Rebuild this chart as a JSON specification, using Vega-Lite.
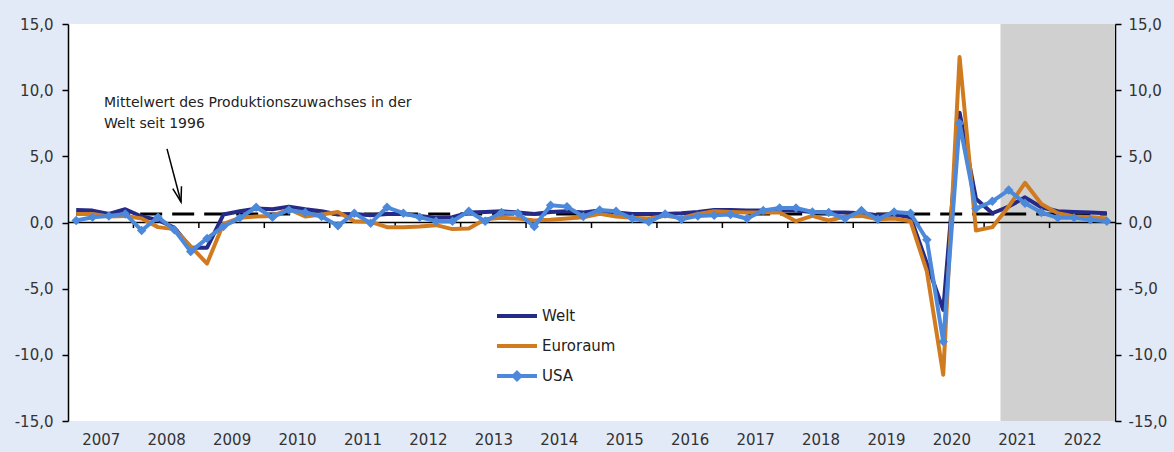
{
  "$schema": "https://vega.github.io/schema/vega-lite/v6.json",
  "width": 1047,
  "height": 397,
  "autosize": "none",
  "padding": {"left": 68, "top": 24, "right": 59, "bottom": 31},
  "background": "#e3eaf7",
  "config": {
    "view": {"stroke": null, "fill": "white"},
    "font": "DejaVu Sans",
    "axis": {"labelFont": "DejaVu Sans", "labelColor": "#333333", "labelFontSize": 15, "grid": false, "title": null}
  },
  "resolve": {"axis": {"y": "independent"}},
  "datasets": {
    "reihen": [
      {"t": 2007.125, "Welt": 0.95, "Euroraum": 0.65, "USA": 0.15},
      {"t": 2007.375, "Welt": 0.9, "Euroraum": 0.65, "USA": 0.4},
      {"t": 2007.625, "Welt": 0.65, "Euroraum": 0.45, "USA": 0.5},
      {"t": 2007.875, "Welt": 1.0, "Euroraum": 0.5, "USA": 0.65},
      {"t": 2008.125, "Welt": 0.45, "Euroraum": 0.3, "USA": -0.6},
      {"t": 2008.375, "Welt": 0.2, "Euroraum": -0.35, "USA": 0.4},
      {"t": 2008.625, "Welt": -0.4, "Euroraum": -0.5, "USA": -0.55},
      {"t": 2008.875, "Welt": -1.9, "Euroraum": -1.8, "USA": -2.2},
      {"t": 2009.125, "Welt": -1.9, "Euroraum": -3.1, "USA": -1.2},
      {"t": 2009.375, "Welt": 0.6, "Euroraum": -0.1, "USA": -0.3},
      {"t": 2009.625, "Welt": 0.85, "Euroraum": 0.35, "USA": 0.35},
      {"t": 2009.875, "Welt": 1.05, "Euroraum": 0.45, "USA": 1.15},
      {"t": 2010.125, "Welt": 1.0, "Euroraum": 0.5, "USA": 0.4},
      {"t": 2010.375, "Welt": 1.2, "Euroraum": 1.0, "USA": 0.95},
      {"t": 2010.625, "Welt": 1.0, "Euroraum": 0.45, "USA": 0.75},
      {"t": 2010.875, "Welt": 0.85, "Euroraum": 0.6, "USA": 0.45},
      {"t": 2011.125, "Welt": 0.6, "Euroraum": 0.8, "USA": -0.25},
      {"t": 2011.375, "Welt": 0.65, "Euroraum": 0.1, "USA": 0.7},
      {"t": 2011.625, "Welt": 0.55, "Euroraum": 0.05, "USA": -0.05},
      {"t": 2011.875, "Welt": 0.65, "Euroraum": -0.35, "USA": 1.15},
      {"t": 2012.125, "Welt": 0.65, "Euroraum": -0.35, "USA": 0.7},
      {"t": 2012.375, "Welt": 0.5, "Euroraum": -0.3, "USA": 0.4},
      {"t": 2012.625, "Welt": 0.35, "Euroraum": -0.2, "USA": 0.1},
      {"t": 2012.875, "Welt": 0.4, "Euroraum": -0.5, "USA": 0.1},
      {"t": 2013.125, "Welt": 0.75, "Euroraum": -0.45, "USA": 0.85},
      {"t": 2013.375, "Welt": 0.8, "Euroraum": 0.25, "USA": 0.1},
      {"t": 2013.625, "Welt": 0.85, "Euroraum": 0.35, "USA": 0.75},
      {"t": 2013.875, "Welt": 0.75, "Euroraum": 0.3, "USA": 0.7},
      {"t": 2014.125, "Welt": 0.65, "Euroraum": 0.15, "USA": -0.3},
      {"t": 2014.375, "Welt": 0.8, "Euroraum": 0.2, "USA": 1.3},
      {"t": 2014.625, "Welt": 0.85, "Euroraum": 0.3, "USA": 1.2},
      {"t": 2014.875, "Welt": 0.75, "Euroraum": 0.4, "USA": 0.45},
      {"t": 2015.125, "Welt": 0.9, "Euroraum": 0.65, "USA": 0.95},
      {"t": 2015.375, "Welt": 0.75, "Euroraum": 0.45, "USA": 0.85},
      {"t": 2015.625, "Welt": 0.65, "Euroraum": 0.35, "USA": 0.3},
      {"t": 2015.875, "Welt": 0.65, "Euroraum": 0.3, "USA": 0.05},
      {"t": 2016.125, "Welt": 0.65, "Euroraum": 0.5, "USA": 0.65},
      {"t": 2016.375, "Welt": 0.7, "Euroraum": 0.35, "USA": 0.25},
      {"t": 2016.625, "Welt": 0.8, "Euroraum": 0.65, "USA": 0.5},
      {"t": 2016.875, "Welt": 0.95, "Euroraum": 0.85, "USA": 0.55},
      {"t": 2017.125, "Welt": 0.95, "Euroraum": 0.8, "USA": 0.6},
      {"t": 2017.375, "Welt": 0.9, "Euroraum": 0.75, "USA": 0.3},
      {"t": 2017.625, "Welt": 0.9, "Euroraum": 0.75, "USA": 0.9},
      {"t": 2017.875, "Welt": 0.95, "Euroraum": 0.75, "USA": 1.1},
      {"t": 2018.125, "Welt": 0.9, "Euroraum": 0.1, "USA": 1.1},
      {"t": 2018.375, "Welt": 0.8, "Euroraum": 0.5, "USA": 0.8},
      {"t": 2018.625, "Welt": 0.75, "Euroraum": 0.15, "USA": 0.75},
      {"t": 2018.875, "Welt": 0.75, "Euroraum": 0.45, "USA": 0.3},
      {"t": 2019.125, "Welt": 0.7, "Euroraum": 0.5, "USA": 0.9},
      {"t": 2019.375, "Welt": 0.55, "Euroraum": 0.25, "USA": 0.25},
      {"t": 2019.625, "Welt": 0.6, "Euroraum": 0.3, "USA": 0.8},
      {"t": 2019.875, "Welt": 0.4, "Euroraum": 0.1, "USA": 0.7},
      {"t": 2020.125, "Welt": -3.1, "Euroraum": -3.7, "USA": -1.3},
      {"t": 2020.375, "Welt": -6.6, "Euroraum": -11.5, "USA": -9.0},
      {"t": 2020.625, "Welt": 8.3, "Euroraum": 12.5, "USA": 7.5},
      {"t": 2020.875, "Welt": 1.8, "Euroraum": -0.6, "USA": 1.05},
      {"t": 2021.125, "Welt": 0.7, "Euroraum": -0.35, "USA": 1.6},
      {"t": 2021.375, "Welt": 1.2, "Euroraum": 1.2, "USA": 2.45},
      {"t": 2021.625, "Welt": 1.9, "Euroraum": 3.0, "USA": 1.45},
      {"t": 2021.875, "Welt": 1.15, "Euroraum": 1.4, "USA": 0.75},
      {"t": 2022.125, "Welt": 0.85, "Euroraum": 0.7, "USA": 0.35},
      {"t": 2022.375, "Welt": 0.8, "Euroraum": 0.45, "USA": 0.35},
      {"t": 2022.625, "Welt": 0.75, "Euroraum": 0.4, "USA": 0.2},
      {"t": 2022.875, "Welt": 0.7, "Euroraum": 0.3, "USA": 0.1}
    ]
  },
  "layer": [
    {
      "data": {"values": [{"start": 2021.25, "end": 2023, "bereich": "Prognose"}]},
      "mark": {"type": "rect", "color": "#d0d0d0"},
      "encoding": {
        "x": {
          "field": "start", "type": "quantitative",
          "scale": {"domain": [2007, 2023], "nice": false, "zero": false},
          "axis": {
            "values": [2007.5, 2008.5, 2009.5, 2010.5, 2011.5, 2012.5, 2013.5, 2014.5, 2015.5, 2016.5, 2017.5, 2018.5, 2019.5, 2020.5, 2021.5, 2022.5],
            "labelExpr": "toString(floor(datum.value))",
            "ticks": false, "domain": false, "labelPadding": 11, "labelFlush": false, "labelOverlap": false
          }
        },
        "x2": {"field": "end"}
      }
    },
    {
      "data": {"values": [{"null": 0}]},
      "mark": {"type": "rule", "color": "black", "strokeWidth": 1.5},
      "encoding": {
        "y": {
          "field": "null", "type": "quantitative",
          "scale": {"domain": [-15, 15], "nice": false, "zero": false},
          "axis": {
            "orient": "left", "values": [-15, -10, -5, 0, 5, 10, 15],
            "labelExpr": "replace(replace(format(datum.value, '.1f'), '.', ','), '−', '-')",
            "domainColor": "black", "domainWidth": 1.5, "tickColor": "black", "tickWidth": 1.5, "tickSize": 6, "labelPadding": 9
          }
        }
      }
    },
    {
      "data": {"values": [{"jahr": 2008}, {"jahr": 2009}, {"jahr": 2010}, {"jahr": 2011}, {"jahr": 2012}, {"jahr": 2013}, {"jahr": 2014}, {"jahr": 2015}, {"jahr": 2016}, {"jahr": 2017}, {"jahr": 2018}, {"jahr": 2019}, {"jahr": 2020}, {"jahr": 2021}, {"jahr": 2022}]},
      "mark": {"type": "rule", "color": "black", "strokeWidth": 1.5},
      "encoding": {
        "x": {"field": "jahr", "type": "quantitative"},
        "y": {"datum": 0, "type": "quantitative", "scale": {"domain": [-15, 15], "nice": false, "zero": false}, "axis": null},
        "y2": {"datum": -0.42}
      }
    },
    {
      "data": {"values": [{"von": 2007.125, "bis": 2022.875, "mittel": 0.65}]},
      "mark": {"type": "rule", "color": "black", "strokeWidth": 3, "strokeDash": [22, 10]},
      "encoding": {
        "x": {"field": "von", "type": "quantitative"},
        "x2": {"field": "bis"},
        "y": {
          "field": "mittel", "type": "quantitative",
          "scale": {"domain": [-15, 15], "nice": false, "zero": false},
          "axis": {
            "orient": "right", "values": [-15, -10, -5, 0, 5, 10, 15],
            "labelExpr": "replace(replace(format(datum.value, '.1f'), '.', ','), '−', '-')",
            "domainColor": "black", "domainWidth": 1.5, "tickColor": "black", "tickWidth": 1.5, "tickSize": 6, "labelPadding": 7
          }
        }
      }
    },
    {
      "data": {"name": "reihen"},
      "transform": [{"fold": ["Welt", "Euroraum", "USA"], "as": ["serie", "wert"]}],
      "mark": {"type": "line", "strokeWidth": 4, "strokeJoin": "round"},
      "encoding": {
        "x": {"field": "t", "type": "quantitative"},
        "y": {"field": "wert", "type": "quantitative", "scale": {"domain": [-15, 15], "nice": false, "zero": false}, "axis": null},
        "color": {
          "field": "serie", "type": "nominal",
          "scale": {"domain": ["Welt", "Euroraum", "USA"], "range": ["#242a86", "#d17b21", "#4d89da"]},
          "legend": {
            "orient": "none", "legendX": 427, "legendY": 270, "title": null,
            "symbolType": "stroke", "symbolSize": 1600, "symbolStrokeWidth": 4,
            "labelFontSize": 15, "labelColor": "#222222", "labelFont": "DejaVu Sans", "labelOffset": 3,
            "rowPadding": -12, "padding": 0,
            "encode": {
              "symbols": {
                "update": {
                  "shape": {"signal": "datum.value === 'USA' ? 'M-1,0L1,0M0,-0.16L0.16,0L0,0.16L-0.16,0Z' : 'stroke'"},
                  "fill": {"signal": "datum.value === 'USA' ? '#4d89da' : 'transparent'"}
                }
              }
            }
          }
        }
      }
    },
    {
      "data": {"name": "reihen"},
      "transform": [{"fold": ["Welt", "Euroraum", "USA"], "as": ["serie", "wert"]}, {"filter": "datum.serie === 'USA'"}],
      "mark": {"type": "point", "shape": "diamond", "filled": true, "size": 90, "color": "#4d89da", "opacity": 1},
      "encoding": {
        "x": {"field": "t", "type": "quantitative"},
        "y": {"field": "wert", "type": "quantitative", "scale": {"domain": [-15, 15], "nice": false, "zero": false}, "axis": null}
      }
    },
    {
      "data": {"values": [{"x0": 2008.513, "y0": 5.56, "x1": 2008.727, "y1": 1.55}]},
      "mark": {"type": "rule", "color": "black", "strokeWidth": 1.5},
      "encoding": {
        "x": {"field": "x0", "type": "quantitative"},
        "x2": {"field": "x1"},
        "y": {"field": "y0", "type": "quantitative", "scale": {"domain": [-15, 15], "nice": false, "zero": false}, "axis": null},
        "y2": {"field": "y1"}
      }
    },
    {
      "data": {"values": [{"x1": 2008.727, "y1": 1.55}]},
      "mark": {"type": "point", "shape": "M-0.3,-1L0,0L0.3,-1", "filled": false, "size": 900, "strokeWidth": 1.5, "color": "black", "opacity": 1, "angle": -15},
      "encoding": {
        "x": {"field": "x1", "type": "quantitative"},
        "y": {"field": "y1", "type": "quantitative", "scale": {"domain": [-15, 15], "nice": false, "zero": false}, "axis": null}
      }
    },
    {
      "data": {"values": [{"x": 2007.55, "y": 8.73, "txt": "Mittelwert des Produktionszuwachses in der\nWelt seit 1996"}]},
      "mark": {"type": "text", "align": "left", "baseline": "alphabetic", "fontSize": 14, "font": "DejaVu Sans", "color": "#222222", "lineBreak": "\n", "lineHeight": 21},
      "encoding": {
        "x": {"field": "x", "type": "quantitative"},
        "y": {"field": "y", "type": "quantitative", "scale": {"domain": [-15, 15], "nice": false, "zero": false}, "axis": null},
        "text": {"field": "txt"}
      }
    }
  ]
}
